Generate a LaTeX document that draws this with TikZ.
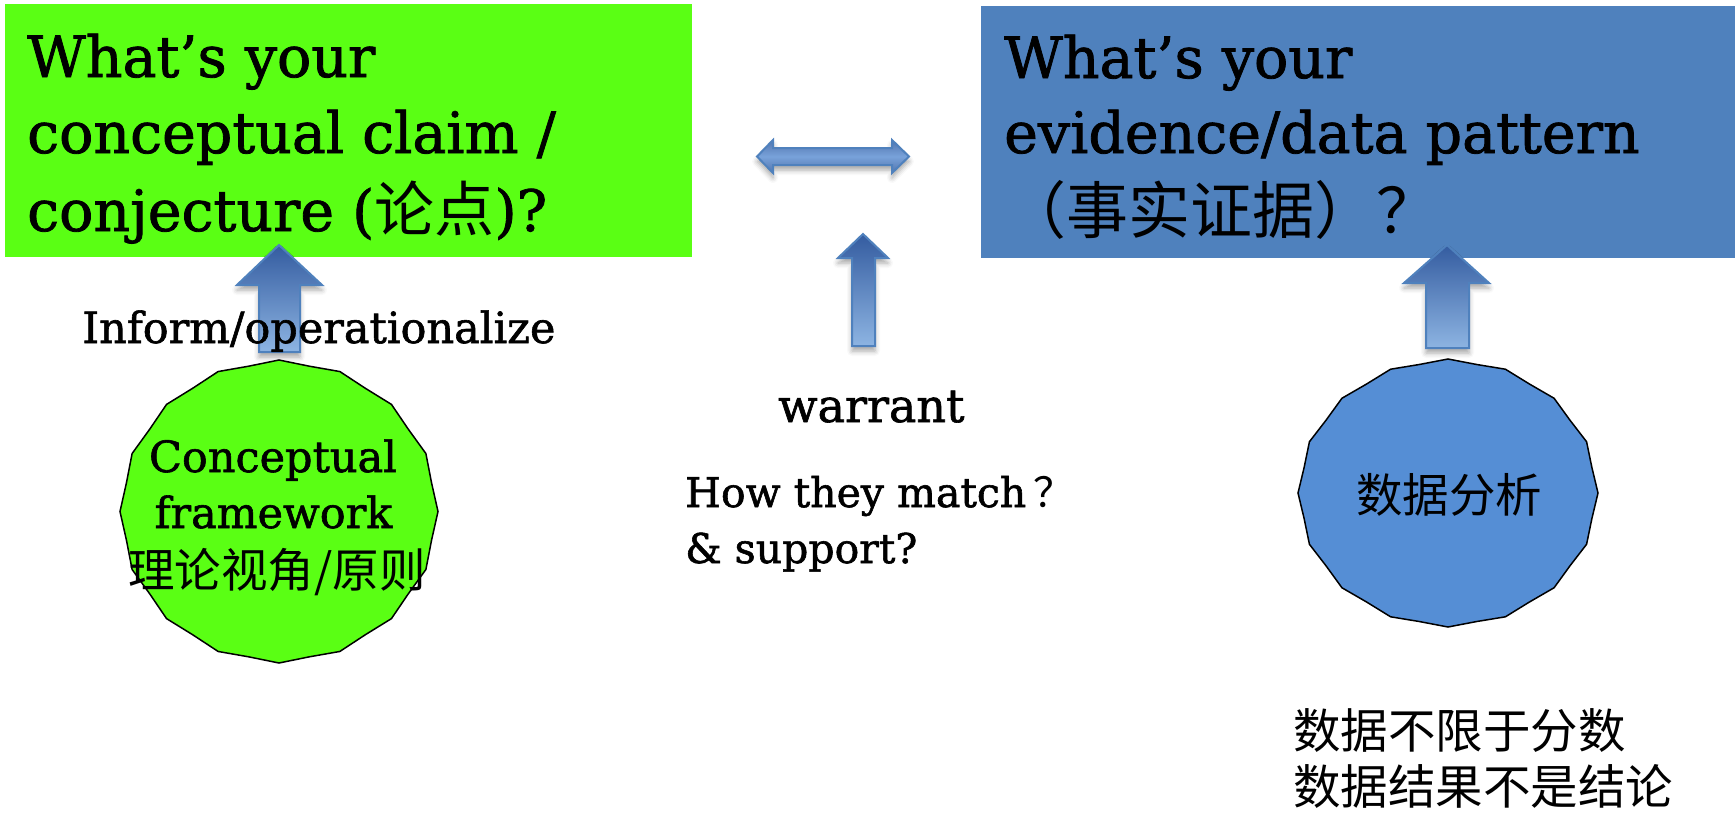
\documentclass[tikz,border=0pt]{standalone}
\usepackage{fontspec}
\newfontfamily\rock[FakeBold=1.4]{DejaVu Serif}
\newfontfamily\cjk{Noto Sans CJK SC}
\usetikzlibrary{shadows.blur}
\definecolor{claimgreen}{RGB}{90,255,20}
\definecolor{evblue}{RGB}{79,129,189}
\definecolor{anblue}{RGB}{85,142,213}
\definecolor{arrowedge}{RGB}{79,129,189}
\definecolor{arrowdark}{RGB}{52,92,160}
\definecolor{arrowlight}{RGB}{141,180,226}
\definecolor{arrowmid}{RGB}{120,162,218}

\begin{document}
\begin{tikzpicture}[x=1pt,y=-1pt,
  panel/.style={draw=none, inner sep=0pt, outer sep=0pt, anchor=north west},
  headline/.style={anchor=base west, inner sep=0pt, text=black, font=\rock\fontsize{57}{70}\selectfont},
  txt/.style={anchor=base west, inner sep=0pt, text=black},
  ctxt/.style={anchor=base, inner sep=0pt, text=black},
  blockarrow/.style={draw=arrowedge, line width=2pt, line join=miter,
    top color=arrowdark, bottom color=arrowlight,
    blur shadow={shadow xshift=0pt, shadow yshift=-5pt, shadow blur radius=5pt, shadow opacity=35}},
  sidearrow/.style={draw=arrowedge, line width=2pt, line join=miter,
    top color=arrowdark!85!white, bottom color=arrowdark!85!white, middle color=arrowmid,
    blur shadow={shadow xshift=0pt, shadow yshift=-5pt, shadow blur radius=5pt, shadow opacity=35}},
  star16/.style={draw=black, line width=1.5pt, line join=miter}
]
\useasboundingbox (0,0) rectangle (1735,812);

% the two question panels
\node[panel, fill=claimgreen, minimum width=687pt, minimum height=253pt] (claim) at (5,4) {};
\node[panel, fill=evblue, minimum width=755pt, minimum height=252pt] (evidence) at (981,6) {};

% block arrows
\draw[sidearrow] (757,156.5) -- (773,140) -- (773,148) -- (892,148) -- (892,140) -- (909,156.5)
  -- (892,173) -- (892,165) -- (773,165) -- (773,173) -- cycle;
\draw[blockarrow] (259,352) -- (259,285) -- (237,285) -- (279,245) -- (322,285) -- (300,285) -- (300,352) -- cycle;
\draw[blockarrow] (852,346) -- (852,258) -- (838,258) -- (863,234) -- (888,258) -- (875,258) -- (875,346) -- cycle;
\draw[blockarrow] (1426,348) -- (1426,283) -- (1404,283) -- (1447,245) -- (1489,283) -- (1469,283) -- (1469,348) -- cycle;

% sixteen-point stars with very shallow notches
\draw[star16, fill=claimgreen] plot[samples at={0,...,31}, variable=\k]
  ({279+159*(1-0.011*(1-cos(180*\k)))*cos(90+11.25*\k)},
   {511.5-151.5*(1-0.011*(1-cos(180*\k)))*sin(90+11.25*\k)}) -- cycle;
\draw[star16, fill=anblue] plot[samples at={0,...,31}, variable=\k]
  ({1448+150*(1-0.011*(1-cos(180*\k)))*cos(90+11.25*\k)},
   {493-134*(1-0.011*(1-cos(180*\k)))*sin(90+11.25*\k)}) -- cycle;

% panel texts
\node[headline] (claimA) at (27,77) {What’s your};
\node[headline] (claimB) at (27,153) {conceptual claim /};
\node[headline] (claimC) at (27,231) {conjecture ({\cjk\fontsize{60}{70}\selectfont 论点})?};
\node[headline] (evA) at (1004,78) {What’s your};
\node[headline] (evB) at (1004,153) {evidence/data pattern};
\node[headline] (evC) at (1004,233) {\cjk\fontsize{62}{70}\selectfont （事实证据）？};

% arrow labels
\node[txt, font=\rock\fontsize{43}{50}\selectfont] (inform) at (82,343) {Inform/operationalize};
\node[txt, font=\rock\fontsize{46}{50}\selectfont] (warrant) at (778,422) {warrant};
\node[txt, font=\rock\fontsize{41}{50}\selectfont] (match) at (685,507) {How they match\,{\cjk ？}};
\node[txt, font=\rock\fontsize{41}{50}\selectfont] (support) at (685,563) {\& support?};

% star texts
\node[ctxt, font=\rock\fontsize{43}{50}\selectfont] (fwA) at (273,472) {Conceptual};
\node[ctxt, font=\rock\fontsize{43}{50}\selectfont] (fwB) at (273.5,528) {framework};
\node[ctxt, font=\cjk\fontsize{46.5}{50}\selectfont] (fwC) at (277,587) {理论视角/原则};
\node[ctxt, font=\cjk\fontsize{46.5}{50}\selectfont] (analysis) at (1449,512) {数据分析};

% note under the analysis star
\node[txt, font=\cjk\fontsize{47.5}{50}\selectfont] (noteA) at (1293,748) {数据不限于分数};
\node[txt, font=\cjk\fontsize{47.5}{50}\selectfont] (noteB) at (1293,804) {数据结果不是结论};
\end{tikzpicture}
\end{document}
